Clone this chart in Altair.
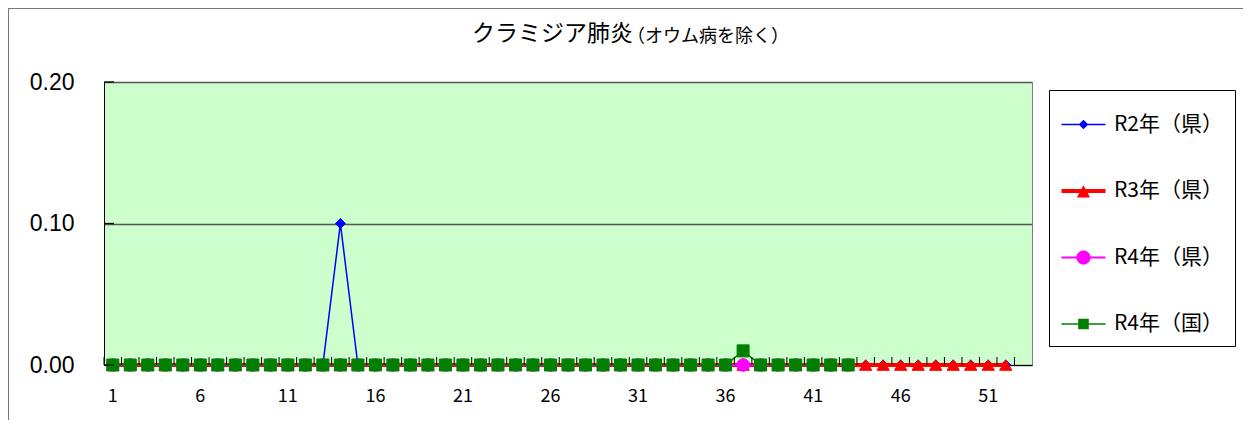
import altair as alt
import pandas as pd

# ---------------- data ----------------
weeks = list(range(1, 54))
series_names = ["R2年（県）", "R3年（県）", "R4年（県）", "R4年（国）"]

r2_ken = [0, 0, 0, 0, 0, 0, 0, 0, 0, 0, 0, 0, 0, 0.1, 0, 0, 0, 0, 0, 0,
          0, 0, 0, 0, 0, 0, 0, 0, 0, 0, 0, 0, 0, 0, 0, 0, 0, 0, 0, 0,
          0, 0, 0, 0, 0, 0, 0, 0, 0, 0, 0, 0]
r3_ken = [0, 0, 0, 0, 0, 0, 0, 0, 0, 0, 0, 0, 0, 0, 0, 0, 0, 0, 0, 0,
          0, 0, 0, 0, 0, 0, 0, 0, 0, 0, 0, 0, 0, 0, 0, 0, 0, 0, 0, 0,
          0, 0, 0, 0, 0, 0, 0, 0, 0, 0, 0, 0]
r4_ken = [0, 0, 0, 0, 0, 0, 0, 0, 0, 0, 0, 0, 0, 0, 0, 0, 0, 0, 0, 0,
          0, 0, 0, 0, 0, 0, 0, 0, 0, 0, 0, 0, 0, 0, 0, 0, 0, 0, 0, 0,
          0, 0, 0]
r4_kuni = [0, 0, 0, 0, 0, 0, 0, 0, 0, 0, 0, 0, 0, 0, 0, 0, 0, 0, 0, 0,
           0, 0, 0, 0, 0, 0, 0, 0, 0, 0, 0, 0, 0, 0, 0, 0, 0.01, 0, 0, 0,
           0, 0, 0]

y_ticks = [0.0, 0.1, 0.2]
title_main = "クラミジア肺炎"
title_sub = "（オウム病を除く）"

series_values = [r2_ken, r3_ken, r4_ken, r4_kuni]

# ---------------- styles ----------------
colors = ["#0000FF", "#FF0000", "#FF00FF", "#008000"]
line_widths = [1.5, 4, 2, 1.5]
shapes = ["diamond", "triangle-up", "circle", "square"]
sizes = [100, 150, 160, 144]
legend_paths = [
    "M-1,-0.035H1V0.035H-1Z M-0.22,0L0,-0.22L0.22,0L0,0.22Z",
    "M-1,-0.09H1V0.09H-1Z M0,-0.26L0.3,0.3L-0.3,0.3Z",
    "M-1,-0.045H1V0.045H-1Z M-0.32,0A0.32,0.32 0 1,1 0.32,0A0.32,0.32 0 1,1 -0.32,0Z",
    "M-1,-0.035H1V0.035H-1Z M-0.24,-0.24H0.24V0.24H-0.24Z",
]

rows = []
for name, vals in zip(series_names, series_values):
    for w, v in zip(weeks, vals):
        rows.append({"series": name, "week": w, "value": v})
df = pd.DataFrame(rows)

W, H = 928, 283
PAD = {"left": 96, "top": 74, "right": 211, "bottom": 55}
FONT_JP = "Noto Sans CJK JP"

x_enc = alt.X("week:O", scale=alt.Scale(domain=weeks, paddingInner=0, paddingOuter=0),
              axis=alt.Axis(title=None, labelAngle=0, ticks=False, grid=False,
                            bandPosition=0.5,
                            domainColor="black", domainWidth=1,
                            labelFont=FONT_JP, labelFontSize=18, labelColor="black",
                            labelPadding=22,
                            labelExpr="(datum.value - 1) % 5 == 0 ? datum.label : ''"))
y_enc = alt.Y("value:Q", scale=alt.Scale(domain=[0, 0.2], nice=False),
              axis=alt.Axis(title=None, values=y_ticks, format=".2f", ticks=False,
                            domainColor="black", domainWidth=1,
                            grid=True, gridColor="#555555", gridWidth=1.3,
                            labelFont="Liberation Sans", labelFontSize=23,
                            labelColor="black", labelPadding=30))

base = alt.Chart(df)
layers = []

for i, name in enumerate(series_names):
    sub = base.transform_filter(alt.datum.series == name)
    layers.append(sub.mark_line(color=colors[i], strokeWidth=line_widths[i]).encode(
        x=x_enc, y=y_enc))
    layers.append(sub.mark_point(filled=True, shape=shapes[i], size=sizes[i],
                                 color=colors[i], stroke=colors[i], strokeWidth=1,
                                 opacity=1).encode(x=x_enc, y=y_enc))

# axis-like inward ticks
tick_df = pd.DataFrame({"week": weeks})
layers.append(alt.Chart(tick_df).mark_rule(color="black", strokeWidth=1).encode(
    x=alt.X("week:O", bandPosition=0),
    y=alt.value(H), y2=alt.value(H - 8)))
ytick_df = pd.DataFrame({"value": y_ticks})
layers.append(alt.Chart(ytick_df).mark_rule(color="black", strokeWidth=1.3).encode(
    y="value:Q", x=alt.value(0), x2=alt.value(10)))

# legend layer (draws nothing, only provides the legend)
leg = alt.Legend(title=None, orient="none", legendX=945, legendY=8,
                 symbolSize=1936, symbolStrokeWidth=1,
                 labelFont=FONT_JP, labelFontSize=21,
                 labelColor="black", labelOffset=8,
                 labelLimit=300, rowPadding=33.5, padding=12,
                 strokeColor="black", fillColor="white",
                 symbolOpacity=1)
legend_layer = base.transform_filter("datum.value < 0").mark_point(
    filled=True, opacity=1).encode(
    x=x_enc, y=y_enc,
    color=alt.Color("series:N", scale=alt.Scale(domain=series_names, range=colors),
                    legend=leg),
    shape=alt.Shape("series:N", scale=alt.Scale(domain=series_names, range=legend_paths),
                    legend=leg),
)
layers.append(legend_layer)

# title texts
t_df = pd.DataFrame({"t": [title_main], "s": [title_sub]})
layers.append(alt.Chart(t_df).mark_text(align="right", baseline="middle", font=FONT_JP,
                                        fontSize=23, color="black").encode(
    text="t:N", x=alt.value(529), y=alt.value(-48)))
layers.append(alt.Chart(t_df).mark_text(align="left", baseline="middle", font=FONT_JP,
                                        fontSize=18, color="black").encode(
    text="s:N", x=alt.value(523), y=alt.value(-45)))

# outer frame
layers.append(alt.Chart(t_df).mark_rule(color="#777777", strokeWidth=1).encode(
    x=alt.value(-96), x2=alt.value(W + PAD["right"]), y=alt.value(-73.5)))
layers.append(alt.Chart(t_df).mark_rule(color="#777777", strokeWidth=1).encode(
    x=alt.value(-95.5), y=alt.value(-74), y2=alt.value(H + PAD["bottom"])))

chart = alt.layer(*layers).properties(
    width=W, height=H,
    autosize=alt.AutoSizeParams(type="none"),
    padding=PAD,
    background="white",
).configure_view(fill="#CCFFCC", stroke="#808080", strokeWidth=1)

chart.save("out.html", embed_options={"renderer": "svg", "actions": False})
